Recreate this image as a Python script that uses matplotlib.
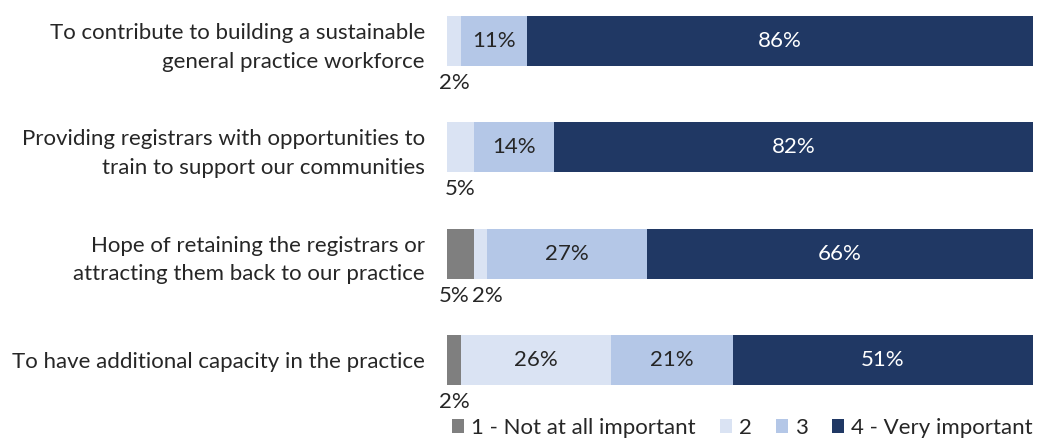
import matplotlib
matplotlib.use("Agg")
import matplotlib.pyplot as plt
from matplotlib.patches import Patch
import numpy as np

plt.rcParams['font.family'] = ['Lato', 'DejaVu Sans']

categories = [
    "To contribute to building a sustainable\ngeneral practice workforce",
    "Providing registrars with opportunities to\ntrain to support our communities",
    "Hope of retaining the registrars or\nattracting them back to our practice",
    "To have additional capacity in the practice",
]
series_names = ["1 - Not at all important", "2", "3", "4 - Very important"]
s1 = [0.0, 0.0, 4.6, 2.4]
s2 = [2.4, 4.6, 2.2, 25.6]
s3 = [11.3, 13.7, 27.3, 20.8]
s4 = [86.3, 81.7, 65.9, 51.2]
colors = ["#7f7f7f", "#dae3f3", "#b4c7e7", "#203864"]
text_colors = ["#262626", "#262626", "#262626", "white"]

data = np.array([s1, s2, s3, s4])
FS = 16
TC = "#262626"

fig = plt.figure(figsize=(10.4, 4.4), dpi=100)
ax = fig.add_axes([447/1040, 1-395/440, (1033-447)/1040, 385/440])

y = np.arange(len(categories))
bar_h = 0.47
left = np.zeros(len(categories))
small = {i: [] for i in range(len(categories))}
for k in range(4):
    vals = data[k]
    ax.barh(y, vals, left=left, height=bar_h, color=colors[k], edgecolor='none')
    for i, v in enumerate(vals):
        if v <= 0:
            continue
        cx = left[i] + v / 2
        if v >= 8:
            ax.text(cx, y[i], f"{v:.0f}%", ha='center', va='center',
                    fontsize=FS, color=text_colors[k])
        else:
            small[i].append([cx, v])
    left += vals

min_sep = 5.8
for i, items in small.items():
    if len(items) == 2 and items[1][0] - items[0][0] < min_sep:
        mid = (items[0][0] + items[1][0]) / 2
        items[0][0] = mid - min_sep / 2
        items[1][0] = mid + min_sep / 2
    for cx, v in items:
        ax.text(max(cx, 1.3), y[i] + bar_h / 2 + 0.16, f"{v:.0f}%", ha='center',
                va='center', fontsize=FS, color=TC)

ax.set_xlim(0, 100)
ax.set_ylim(3 + 35/106.3, -31/106.3)
ax.set_yticks(y)
ax.set_yticklabels(categories, fontsize=FS, color=TC, ha='right', linespacing=1.55)
ax.tick_params(axis='y', length=0, pad=16)
ax.set_xticks([])
for sp in ax.spines.values():
    sp.set_visible(False)

handles = [Patch(facecolor=c, edgecolor='none') for c in colors]
fig.legend(handles, series_names, loc='center right', bbox_to_anchor=(0.993, 1 - 428/440),
           ncol=4, frameon=False, fontsize=FS, handlelength=0.55, handleheight=0.55,
           handletextpad=0.3, columnspacing=1.1, labelcolor=TC,
           borderaxespad=0, borderpad=0)

fig.savefig("out.png", dpi=100)
